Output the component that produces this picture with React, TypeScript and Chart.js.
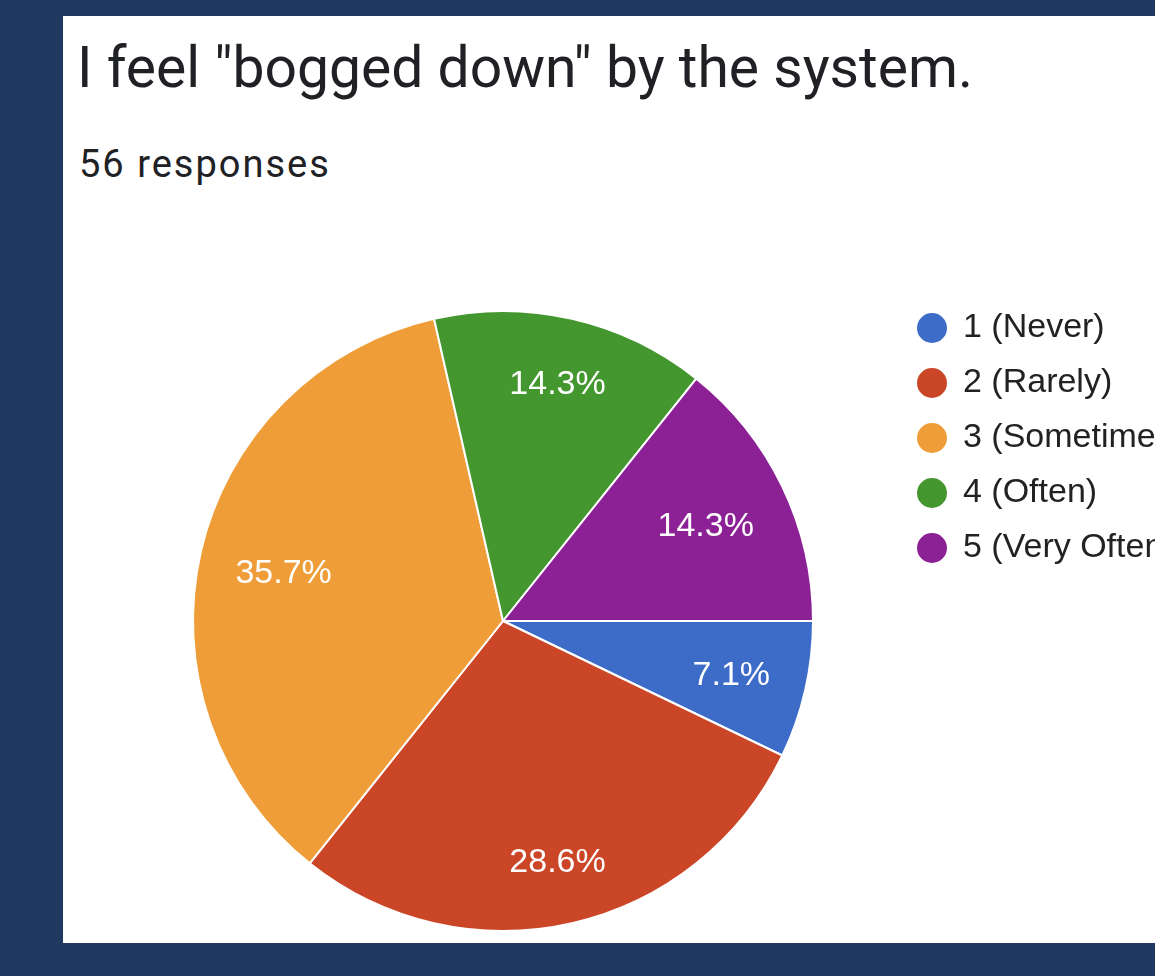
import React, { useEffect, useRef } from "react";
import { Chart, registerables } from "chart.js";

Chart.register(...registerables);

const categories = ["1 (Never)", "2 (Rarely)", "3 (Sometimes)", "4 (Often)", "5 (Very Often)"];
const responses = [4, 16, 20, 8, 8];
const sliceColors = ["#3d6bc8", "#cb4527", "#ef9d38", "#44962f", "#8b2195"];
const titleText = 'I feel "bogged down" by the system.';
const subtitleText = "56 responses";

const LABEL_FONT = '"Liberation Sans", Arial, sans-serif';
const HEAD_FONT = 'Roboto, "Noto Sans", sans-serif';
const LABEL_SIZE = 34;

const pctLabels = {
  id: "pctLabels",
  afterDatasetsDraw(chart: any) {
    const ctx = chart.ctx as CanvasRenderingContext2D;
    const meta = chart.getDatasetMeta(0);
    const data = chart.data.datasets[0].data as number[];
    const total = data.reduce((a, b) => a + b, 0);
    ctx.save();
    ctx.font = `${LABEL_SIZE}px ${LABEL_FONT}`;
    ctx.fillStyle = "#ffffff";
    ctx.textAlign = "center";
    ctx.textBaseline = "alphabetic";
    const capHalf = LABEL_SIZE * 0.716 / 2;
    meta.data.forEach((arc: any, i: number) => {
      const { x, y, startAngle, endAngle, outerRadius } = arc.getProps(
        ["x", "y", "startAngle", "endAngle", "outerRadius"],
        true
      );
      const mid = (startAngle + endAngle) / 2;
      const text = ((data[i] / total) * 100).toFixed(1) + "%";
      const w = ctx.measureText(text).width;
      const h = LABEL_SIZE;
      const c = Math.cos(mid);
      const s = Math.sin(mid);
      const a = (Math.sign(c) * w) / 2;
      const b = (Math.sign(s) * h) / 2;
      const R = outerRadius * 0.89;
      const k = a * c + b * s;
      const d = -k + Math.sqrt(k * k - (a * a + b * b - R * R));
      ctx.fillText(text, x + d * c, y + d * s + capHalf);
    });
    ctx.restore();
  },
};

export default function App() {
  const ref = useRef<HTMLCanvasElement>(null);

  useEffect(() => {
    const baseGen = (Chart.overrides as any).doughnut.plugins.legend.labels.generateLabels;
    const chart = new Chart(ref.current as HTMLCanvasElement, {
      type: "pie",
      data: {
        labels: categories,
        datasets: [
          {
            data: responses,
            backgroundColor: sliceColors,
            borderColor: "#ffffff",
            borderWidth: 2,
          },
        ],
      },
      options: {
        responsive: false,
        animation: false,
        rotation: 90,
        radius: 310,
        layout: { padding: 0 },
        plugins: {
          tooltip: { enabled: false },
          legend: {
            position: "right",
            align: "start",
            maxWidth: 259,
            labels: {
              usePointStyle: true,
              pointStyle: "circle",
              boxWidth: 28,
              boxHeight: 21.2,
              padding: 21,
              color: "#222222",
              font: { size: LABEL_SIZE, family: LABEL_FONT },
              generateLabels: (c: any) =>
                baseGen(c).map((l: any) => ({ ...l, lineWidth: 0 })),
            },
          },
        },
      } as any,
      plugins: [pctLabels],
    });
    return () => chart.destroy();
  }, []);

  return (
    <div
      style={{
        position: "fixed",
        left: 0,
        top: 0,
        width: "100%",
        height: "100%",
        background: "#213860",
        overflow: "hidden",
      }}
    >
      <div
        style={{
          position: "absolute",
          left: 63,
          top: 16,
          width: 1200,
          height: 927,
          background: "#ffffff",
        }}
      >
        <div
          style={{
            position: "absolute",
            left: 14,
            top: 23,
            fontFamily: HEAD_FONT,
            fontSize: 57,
            lineHeight: 1,
            color: "#202124",
            whiteSpace: "nowrap",
          }}
        >
          {titleText}
        </div>
        <div
          style={{
            position: "absolute",
            left: 16,
            top: 129,
            fontFamily: HEAD_FONT,
            fontSize: 38,
            letterSpacing: 2,
            lineHeight: 1,
            color: "#202124",
            whiteSpace: "nowrap",
          }}
        >
          {subtitleText}
        </div>
      </div>
      <canvas
        ref={ref}
        width={1047}
        height={662}
        style={{ position: "absolute", left: 109, top: 290, width: 1047, height: 662, display: "block" }}
      />
    </div>
  );
}
